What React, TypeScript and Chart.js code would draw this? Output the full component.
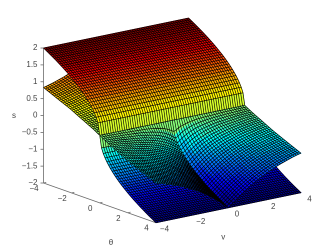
import { useEffect, useRef } from "react";
import { Chart, registerables } from "chart.js";

Chart.register(...registerables);

// Axis ticks
const thetaTicks = [-4, -2, 0, 2, 4];
const vTicks = [-4, -2, 0, 2, 4];
const sTicks = [-2, -1.5, -1, -0.5, 0, 0.5, 1, 1.5, 2];

// Outer sheet: height against |theta| (s > 0 when theta < 0, s < 0 when theta > 0)
const outerThetas = [0, 0.125, 0.25, 0.375, 0.5, 0.625, 0.75, 0.875, 1, 1.125, 1.25, 1.375, 1.5, 1.625, 1.75, 1.875, 2, 2.125, 2.25, 2.375, 2.5, 2.625, 2.75, 2.875, 3, 3.125, 3.25, 3.375, 3.5, 3.625, 3.75, 3.875, 4];
const outerHeights = [0, 0.354, 0.5, 0.612, 0.707, 0.791, 0.866, 0.935, 1, 1.061, 1.118, 1.173, 1.225, 1.275, 1.323, 1.369, 1.414, 1.458, 1.5, 1.541, 1.581, 1.62, 1.658, 1.696, 1.732, 1.768, 1.803, 1.837, 1.871, 1.904, 1.936, 1.969, 2];

// Fold sheet: depth read per |theta| row and |v| column
const foldThetas = [0, 0.16, 0.32, 0.48, 0.8, 1.12, 1.44, 1.76, 2.08, 2.4, 2.72, 3.04, 3.36, 3.68, 4];
const foldSpeeds = [0, 0.32, 0.64, 0.96, 1.28, 1.6, 1.92, 2.24, 2.56, 2.88, 3.2, 3.52, 3.84, 4];
const foldDepths = [
  [0, 0, 0, 0, 0, 0, 0, 0, 0, 0, 0, 0, 0, 0],
  [-0.4, -0.27, -0.19, -0.14, -0.11, -0.09, -0.08, -0.07, -0.06, -0.05, -0.05, -0.04, -0.04, -0.04],
  [-0.57, -0.43, -0.33, -0.26, -0.21, -0.18, -0.15, -0.13, -0.12, -0.11, -0.1, -0.09, -0.08, -0.08],
  [-0.69, -0.55, -0.44, -0.36, -0.3, -0.26, -0.22, -0.2, -0.18, -0.16, -0.14, -0.13, -0.12, -0.12],
  [-0.89, -0.75, -0.63, -0.54, -0.46, -0.4, -0.35, -0.31, -0.28, -0.26, -0.23, -0.21, -0.2, -0.19],
  [-1.06, -0.91, -0.79, -0.68, -0.6, -0.53, -0.47, -0.42, -0.38, -0.35, -0.32, -0.29, -0.27, -0.26],
  [-1.2, -1.05, -0.92, -0.81, -0.72, -0.64, -0.58, -0.52, -0.47, -0.43, -0.4, -0.37, -0.34, -0.33],
  [-1.33, -1.18, -1.04, -0.93, -0.83, -0.75, -0.68, -0.62, -0.56, -0.52, -0.48, -0.44, -0.41, -0.4],
  [-1.44, -1.29, -1.16, -1.04, -0.94, -0.85, -0.77, -0.71, -0.65, -0.6, -0.55, -0.52, -0.48, -0.47],
  [-1.55, -1.4, -1.26, -1.14, -1.04, -0.94, -0.86, -0.79, -0.73, -0.68, -0.63, -0.58, -0.55, -0.53],
  [-1.65, -1.5, -1.36, -1.24, -1.13, -1.03, -0.95, -0.87, -0.81, -0.75, -0.7, -0.65, -0.61, -0.59],
  [-1.74, -1.59, -1.45, -1.33, -1.22, -1.12, -1.03, -0.95, -0.88, -0.82, -0.77, -0.72, -0.67, -0.65],
  [-1.83, -1.68, -1.54, -1.41, -1.3, -1.2, -1.11, -1.03, -0.96, -0.89, -0.83, -0.78, -0.73, -0.71],
  [-1.92, -1.77, -1.62, -1.5, -1.38, -1.28, -1.19, -1.1, -1.03, -0.96, -0.9, -0.84, -0.79, -0.77],
  [-2, -1.85, -1.71, -1.58, -1.46, -1.35, -1.26, -1.17, -1.09, -1.02, -0.96, -0.9, -0.85, -0.83],
];

// View of the box
const ORIGIN = { x: 172.25, y: 120.35 };
const THETA_DIR = { x: 14.06, y: 4.96 };
const V_DIR = { x: 18.125, y: -3.75 };
const S_SCALE = 33.75;
const MESH_STEP = 0.125;
const MESH_WIDTH = 0.65;
const AXIS_COLOR = "#6a6a6a";
const TEXT_COLOR = "#444444";
const FONT = "8px 'Liberation Sans'";

const project = (theta: number, v: number, s: number) => ({
  x: ORIGIN.x + THETA_DIR.x * theta + V_DIR.x * v,
  y: ORIGIN.y + THETA_DIR.y * theta + V_DIR.y * v - S_SCALE * s,
});

const jet = (s: number) => {
  const level = Math.min(63, Math.floor(((s + 2) / 4) * 64));
  const t = (level + 0.5) / 64;
  const ch = (c: number) => Math.round(255 * Math.max(0, Math.min(1, 1.5 - Math.abs(4 * t - c))));
  return `rgb(${ch(3)},${ch(2)},${ch(1)})`;
};

type Row = { thetas: number[]; vs: number[]; at: (i: number, j: number) => number };

// Positions (0..1) of the mesh lines that fall inside a table cell [lo, hi)
const meshFractions = (lo: number, hi: number, closing: boolean) => {
  const out: number[] = [];
  for (let k = Math.ceil(lo / MESH_STEP - 1e-6); k * MESH_STEP < hi - 1e-6; k++) {
    out.push((k * MESH_STEP - lo) / (hi - lo));
  }
  if (closing) out.push(1);
  return out;
};

function sheetDatasets(sheet: number, { thetas, vs, at }: Row) {
  const out: any[] = [];
  for (let i = 0; i < thetas.length - 1; i++) {
    for (let j = 0; j < vs.length - 1; j++) {
      const color = jet(at(i, j));
      const a = project(thetas[i], vs[j], at(i, j));
      const b = project(thetas[i], vs[j + 1], at(i, j + 1));
      const c = project(thetas[i + 1], vs[j + 1], at(i + 1, j + 1));
      const d = project(thetas[i + 1], vs[j], at(i + 1, j));
      out.push({
        data: [a, b, c, d, a],
        showLine: true,
        fill: "shape",
        backgroundColor: color,
        borderColor: color,
        borderWidth: 0.7,
        pointRadius: 0,
        clip: false,
        sheet,
        thetaLines: meshFractions(thetas[i], thetas[i + 1], i === thetas.length - 2),
        vLines: meshFractions(vs[j], vs[j + 1], j === vs.length - 2),
      });
    }
  }
  return out;
}

const axisDataset = (from: { x: number; y: number }, to: { x: number; y: number }) => ({
  data: [from, to],
  showLine: true,
  fill: false,
  borderColor: AXIS_COLOR,
  borderWidth: 0.8,
  pointRadius: 0,
  clip: false,
});

function buildDatasets() {
  const signedSpeeds = [...foldSpeeds.slice(1).reverse().map((v) => -v), ...foldSpeeds];
  const col = (j: number) => foldSpeeds.indexOf(Math.abs(signedSpeeds[j]));
  const negThetas = [...foldThetas].reverse().map((t) => -t);
  const flapVs = foldSpeeds.slice().reverse().map((v) => -v);
  const outerSigned = [...outerThetas.slice(1).reverse().map((t) => -t), ...outerThetas];
  const outerValue = (i: number) => {
    const t = outerSigned[i];
    return (t < 0 ? 1 : -1) * outerHeights[outerThetas.indexOf(Math.abs(t))];
  };

  const axes: any[] = [
    axisDataset(project(-4, -4, -2), project(-4, -4, 2)),
    axisDataset(project(-4, -4, -2), project(4, -4, -2)),
    axisDataset(project(4, -4, -2), project(4, 4, -2)),
    ...sTicks.map((s) => {
      const p = project(-4, -4, s);
      return axisDataset({ x: p.x - 3, y: p.y }, p);
    }),
    ...thetaTicks.map((t) => {
      const p = project(t, -4, -2);
      return axisDataset(p, { x: p.x + 2.7, y: p.y - 0.6 });
    }),
    ...vTicks.map((v) => {
      const p = project(4, v, -2);
      return axisDataset(p, { x: p.x - 2.6, y: p.y - 0.9 });
    }),
  ];

  const flap = sheetDatasets(1, {
    thetas: negThetas,
    vs: flapVs,
    at: (i, j) => -foldDepths[foldThetas.length - 1 - i][foldSpeeds.length - 1 - j],
  });
  const outer = sheetDatasets(2, {
    thetas: outerSigned,
    vs: [-4, 4],
    at: (i) => outerValue(i),
  });
  const fold = sheetDatasets(3, {
    thetas: foldThetas,
    vs: signedSpeeds,
    at: (i, j) => foldDepths[i][col(j)],
  });

  // Chart.js paints the first dataset last, so the list runs from front to back.
  return [...fold, ...outer, ...flap, ...axes].map((d, idx, all) => ({
    ...d,
    closesSheet: d.sheet !== undefined && (idx === 0 || all[idx - 1].sheet !== d.sheet),
  }));
}

const meshPlugin = {
  id: "mesh",
  afterDatasetDraw(chart: any, args: any) {
    const ds = chart.data.datasets[args.index];
    if (!ds.closesSheet) return;
    const ctx = chart.ctx;
    ctx.save();
    ctx.strokeStyle = "#000";
    ctx.lineWidth = MESH_WIDTH;
    ctx.beginPath();
    chart.data.datasets.forEach((q: any, index: number) => {
      if (q.sheet !== ds.sheet) return;
      const [a, b, c, d] = chart.getDatasetMeta(index).data;
      const lerp = (p: any, r: any, t: number) => ({ x: p.x + (r.x - p.x) * t, y: p.y + (r.y - p.y) * t });
      q.thetaLines.forEach((t: number) => {
        const p = lerp(a, d, t);
        const r = lerp(b, c, t);
        ctx.moveTo(p.x, p.y);
        ctx.lineTo(r.x, r.y);
      });
      q.vLines.forEach((t: number) => {
        const p = lerp(a, b, t);
        const r = lerp(d, c, t);
        ctx.moveTo(p.x, p.y);
        ctx.lineTo(r.x, r.y);
      });
    });
    ctx.stroke();
    ctx.restore();
  },
  afterDraw(chart: any) {
    const ctx = chart.ctx;
    const sx = chart.scales.x;
    const sy = chart.scales.y;
    const put = (text: string, x: number, y: number, align: CanvasTextAlign) => {
      ctx.textAlign = align;
      ctx.fillText(text, sx.getPixelForValue(x), sy.getPixelForValue(y));
    };
    const fmt = (n: number) => String(n).replace("-", "\u2212");
    ctx.save();
    ctx.font = FONT;
    ctx.fillStyle = TEXT_COLOR;
    ctx.textBaseline = "middle";
    sTicks.forEach((s) => {
      const p = project(-4, -4, s);
      put(fmt(s), p.x - 6, p.y, "right");
    });
    thetaTicks.forEach((t) => {
      const p = project(t, -4, -2);
      put(fmt(t), p.x - 9.5, p.y + 5.8, "center");
    });
    vTicks.forEach((v) => {
      const p = project(4, v, -2);
      put(fmt(v), p.x + 8.5, p.y + 6.5, "center");
    });
    put("s", 14, 115.7, "center");
    put("\u03b8", 111, 242.7, "center");
    put("v", 223.3, 237.3, "center");
    ctx.restore();
  },
};

export default function App() {
  const ref = useRef<HTMLCanvasElement>(null);
  useEffect(() => {
    document.body.style.margin = "0";
    const chart = new Chart(ref.current!, {
      type: "scatter",
      data: { datasets: buildDatasets() as any },
      options: {
        animation: false,
        responsive: false,
        devicePixelRatio: 2,
        events: [],
        layout: { padding: 0 },
        plugins: { legend: { display: false }, tooltip: { enabled: false } },
        scales: {
          x: { type: "linear", display: false, min: 0, max: 332 },
          y: { type: "linear", display: false, min: 0, max: 250, reverse: true },
        },
      },
      plugins: [meshPlugin as any],
    });
    return () => chart.destroy();
  }, []);
  return <canvas ref={ref} width={332} height={250} style={{ display: "block", width: 332, height: 250 }} />;
}
